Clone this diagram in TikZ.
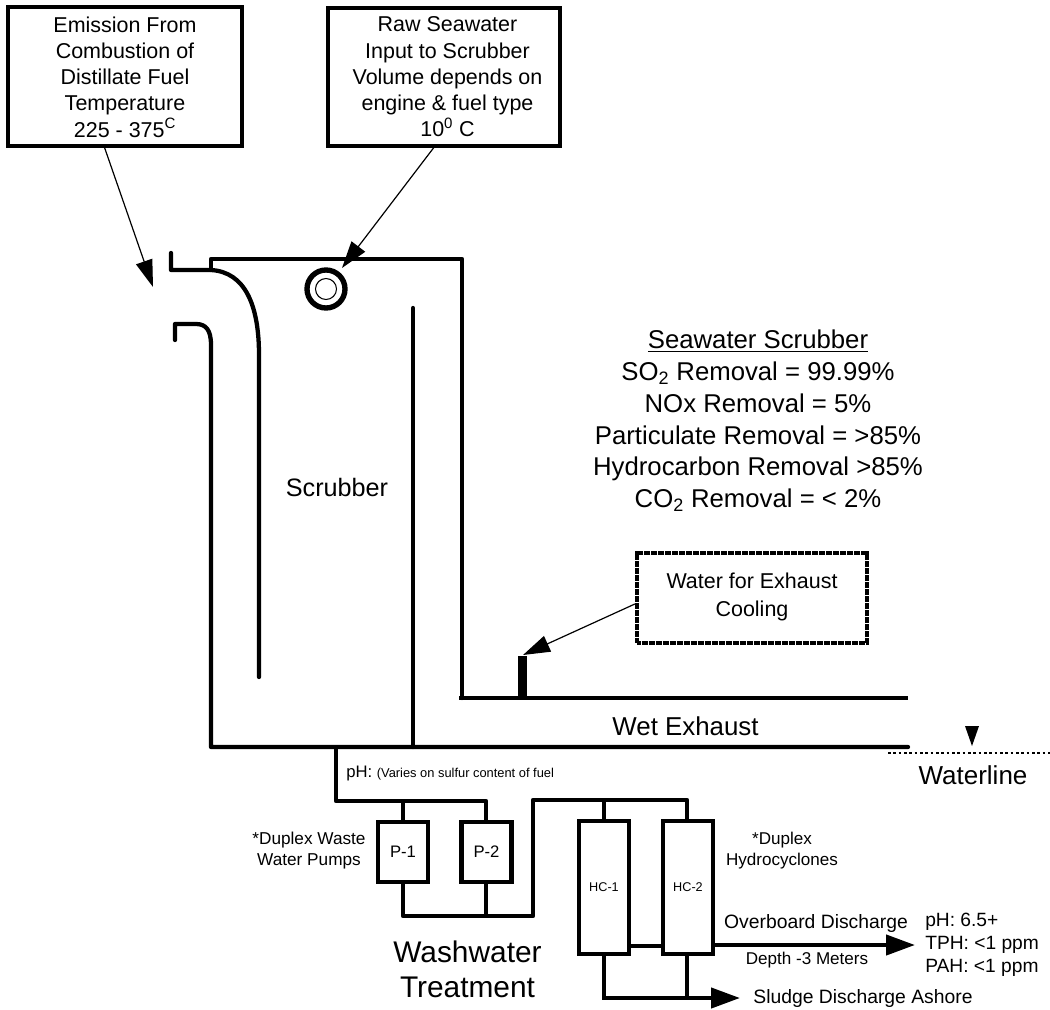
\documentclass[tikz,border=0pt]{standalone}
\usepackage{fontspec}
\setmainfont{Liberation Sans}
\usetikzlibrary{arrows.meta}
\newcommand{\fsz}[2]{\fontsize{#1}{#2}\selectfont}
\tikzset{
  x=0.75pt,y=-0.75pt,
  heavy/.style={line width=3.2pt,line cap=round,line join=round},
  pipe/.style={line width=3.2pt,line join=round},
  thin leader/.style={line width=0.9pt,-{Triangle[length=27*0.75pt,width=17*0.75pt]}},
  bigarrow/.style={line width=3.2pt,-{Triangle[length=29*0.75pt,width=20*0.75pt]}},
  databox/.style={draw,line width=3.2pt,inner sep=0pt,align=center,font=\fsz{16.1}{19.7}},
  unitbox/.style={draw,line width=3.2pt,inner sep=0pt,align=center},
  lbl/.style={inner sep=0pt,align=center},
}
\begin{document}
\begin{tikzpicture}
\useasboundingbox (0,0) rectangle (1050,1010);
% text boxes
\node[databox,minimum width=234*0.75pt,minimum height=139*0.75pt] (emis) at (125,76.5) {};
\node[lbl,font=\fsz{16.1}{19.7}] (emist) at (125,77)
  {Emission From\\Combustion of\\Distillate Fuel\\Temperature\\225 - 375\textsuperscript{C}};
\node[databox,minimum width=232*0.75pt,minimum height=138*0.75pt] (raw) at (444,77) {};
\node[lbl,font=\fsz{16.1}{19.7}] (rawt) at (447.5,77)
  {Raw Seawater\\Input to Scrubber\\Volume depends on\\engine \& fuel type\\10\textsuperscript{0} C};
\node[draw=black,line width=3.2pt,dash pattern=on 1.6pt off 0.15pt,inner sep=0pt,minimum width=230*0.75pt,minimum height=90*0.75pt] (cool) at (752,598) {};
\node[lbl,font=\fsz{16.1}{21}] (coolt) at (752,597) {Water for Exhaust\\Cooling};
% scrubber shell
\coordinate (tl) at (211,259);
\coordinate (tr) at (462,259);
\coordinate (xl) at (459,698);
\coordinate (xr) at (908,698);
\coordinate (bl) at (211,747);
\coordinate (br) at (908,747);
\coordinate (baf) at (413,308);
\coordinate (baf2) at (413,747);
\coordinate (in1) at (171,253);
\coordinate (in2) at (171,270);
\coordinate (in3) at (211,270);
\coordinate (duct) at (259,677);
\coordinate (lo1) at (175,340);
\coordinate (lo2) at (175,324);
\draw[heavy] (in3) -- (tl) -- (tr) -- (462,698);
\draw[heavy] (in1) -- (in2) -- (in3) .. controls (245,272) and (259,305) .. (259,355) -- (duct);
\draw[heavy] (lo1) -- (lo2) -- (196,324) .. controls (206,324) and (211,330) .. (211,345) -- (bl) -- (br);
\draw[heavy] (baf) -- (baf2);
\draw[pipe] (xl) -- (xr);
% spray nozzle
\node[circle,draw,line width=4pt,minimum size=38*0.75pt,inner sep=0pt] (noz) at (326,289) {};
\node[circle,draw,line width=0.8pt,minimum size=21*0.75pt,inner sep=0pt] (nozi) at (326,289) {};
% cooling stub
\node[fill=black,minimum width=9*0.75pt,minimum height=42*0.75pt,inner sep=0pt] (stub) at (522.5,677) {};
% leaders
\coordinate (e1) at (104,146);
\coordinate (e2) at (153,287);
\coordinate (r1) at (435,146);
\coordinate (r2) at (342,268);
\coordinate (c2) at (523,655);
\draw[thin leader] (e1) -- (e2);
\draw[thin leader] (r1) -- (r2);
\draw[thin leader] (cool.west |- 0,604) -- (c2);
% waterline
\coordinate (w1) at (888,753);
\coordinate (w2) at (1050,753);
\draw[line width=0.9pt,dash pattern=on 2pt off 2pt] (w1) -- (w2);
\fill (972,746) -- (965,726) -- (979,726) -- cycle;
% pumps
\node[unitbox,minimum width=50*0.75pt,minimum height=60*0.75pt,font=\fsz{12.5}{14}] (p1) at (403,852) {P-1};
\node[unitbox,minimum width=50*0.75pt,minimum height=60*0.75pt,font=\fsz{12.5}{14}] (p2) at (486.5,852) {P-2};
\coordinate (s1) at (336,747);
\coordinate (s2) at (336,801);
\coordinate (s3) at (486,801);
\draw[pipe] (s1) -- (s2) -- (s3) -- (s3 |- p2.north);
\draw[pipe] (p1.north) -- (p1.north |- s2);
\coordinate (d1) at (403,916);
\coordinate (d2) at (533,916);
\coordinate (d3) at (533,800);
\coordinate (d4) at (687,800);
\draw[pipe] (p1.south) -- (d1) -- (d2) -- (d3) -- (d4) -- (d4 |- 0,822);
\draw[pipe] (p2.south -| 486,0) -- (486,916);
% hydrocyclones
\node[unitbox,minimum width=50*0.75pt,minimum height=133*0.75pt,font=\fsz{9.5}{11}] (hc1) at (604,887.5) {HC-1};
\node[unitbox,minimum width=50*0.75pt,minimum height=133*0.75pt,font=\fsz{9.5}{11}] (hc2) at (688,887.5) {HC-2};
\draw[pipe] (hc1.north) -- (hc1.north |- d4);
\draw[pipe] (hc1.east |- 0,946) -- (hc2.west |- 0,946);
\coordinate (ob) at (915,945);
\draw[bigarrow] (hc2.east |- 0,945) -- (ob);
\coordinate (sl0) at (604,998);
\coordinate (sl) at (740,998);
\draw[bigarrow] (hc1.south) -- (sl0) -- (sl);
\draw[pipe] (hc2.south -| 687,0) -- (687,998);
% labels
\node[lbl,font=\fsz{18.9}{22}] (t1) at (337,487) {Scrubber};
\node[lbl,font=\fsz{19.3}{23.8}] (t2) at (758,421) {\underline{Seawater Scrubber}\\SO\textsubscript{2} Removal = 99.99\%\\NOx Removal = 5\%\\Particulate Removal = >85\%\\Hydrocarbon Removal >85\%\\CO\textsubscript{2} Removal = < 2\%};
\node[lbl,font=\fsz{19.4}{22}] (t3) at (685.5,726) {Wet Exhaust};
\node[lbl,font=\fsz{19.5}{22}] (t4) at (973,775) {Waterline};
\node[lbl,anchor=west] (t5) at (346,773) {\fsz{12.5}{14}pH: \fsz{9.65}{11}(Varies on sulfur content of fuel};
\node[lbl,font=\fsz{12.9}{15.75}] (t6) at (309,851) {*Duplex Waste\\Water Pumps};
\node[lbl,font=\fsz{12.8}{15.75}] (t7) at (782,851) {*Duplex\\Hydrocyclones};
\node[lbl,font=\fsz{22.4}{26.5}] (t8) at (467.5,969) {Washwater\\Treatment};
\node[lbl,font=\fsz{14.5}{16}] (t9) at (816,923) {Overboard Discharge};
\node[lbl,font=\fsz{12.8}{14}] (t10) at (807,960) {Depth -3 Meters};
\node[lbl,font=\fsz{14.4}{17.4},align=left,anchor=west] (t11) at (925,945) {pH: 6.5+\\TPH: <1 ppm\\PAH: <1 ppm};
\node[lbl,font=\fsz{14.5}{16}] (t12) at (863,998) {Sludge Discharge Ashore};
\end{tikzpicture}
\end{document}
